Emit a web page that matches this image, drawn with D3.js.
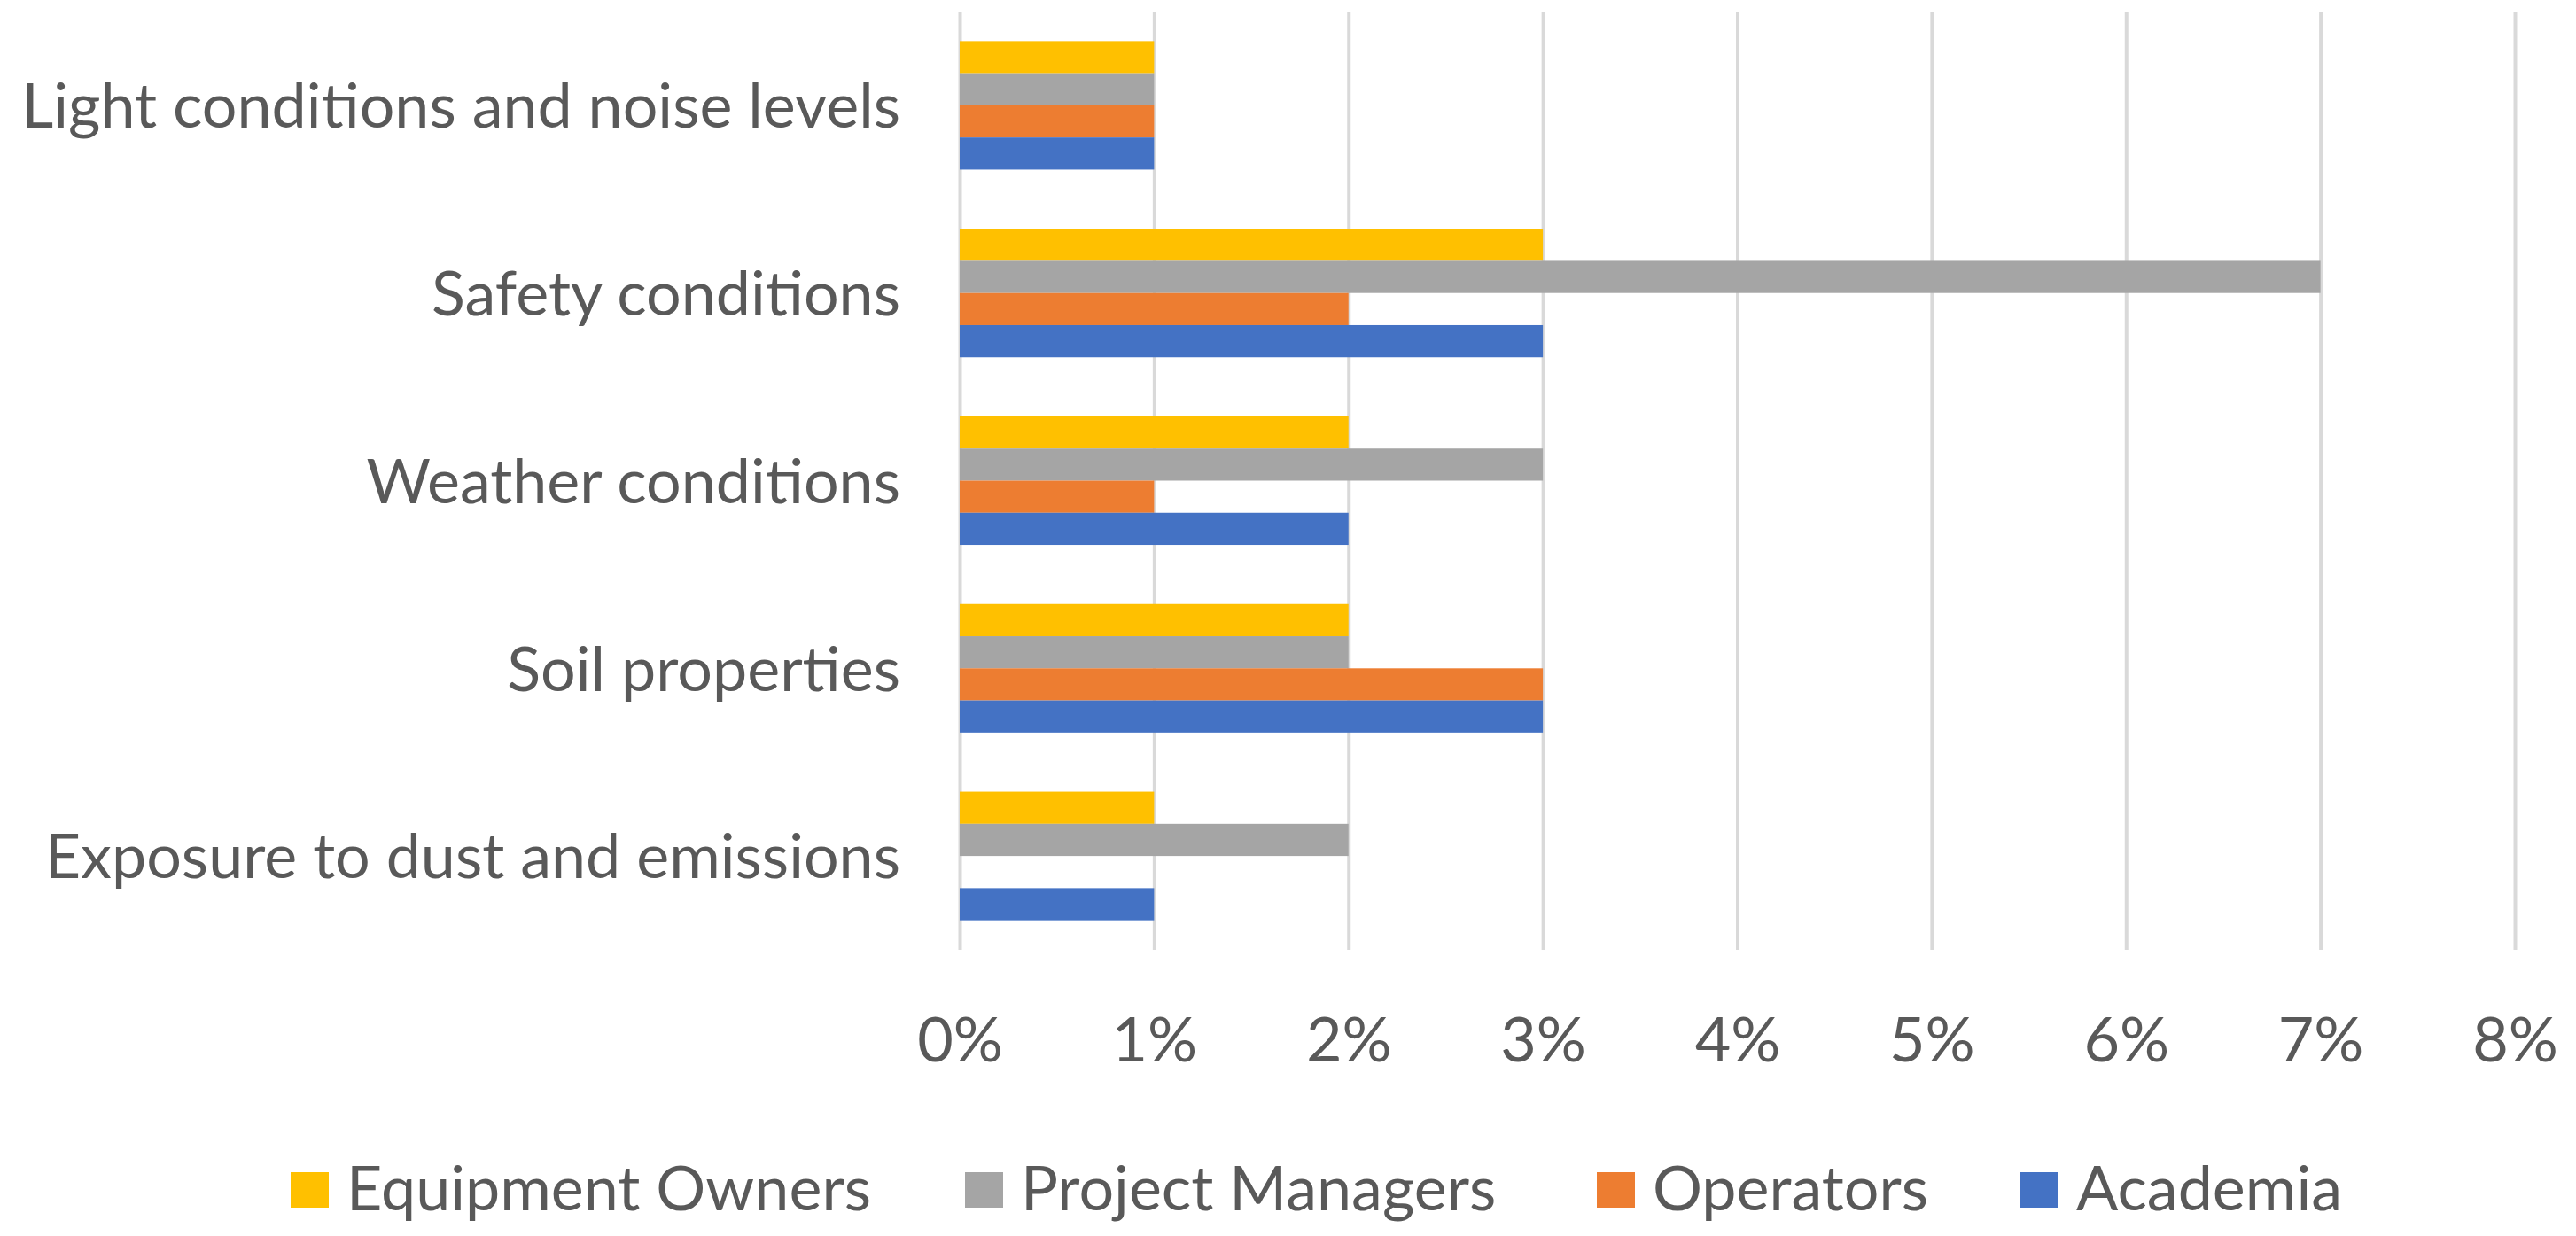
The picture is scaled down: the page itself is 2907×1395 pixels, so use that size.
<!DOCTYPE html>
<html>
<head>
<meta charset="utf-8">
<script src="https://cdn.jsdelivr.net/npm/d3@7"></script>
<style>
  body { margin: 0; background: #fff; }
  svg text { font-family: Lato, "Open Sans", sans-serif; fill: #595959; }
</style>
</head>
<body>
<svg></svg>
<script>
// categories, top to bottom
let categories = [
  "Light conditions and noise levels",
  "Safety conditions",
  "Weather conditions",
  "Soil properties",
  "Exposure to dust and emissions"
];

// series, in the order they are stacked inside each group (top to bottom)
let seriesNames = ["Equipment Owners", "Project Managers", "Operators", "Academia"];
let seriesColors = ["#FFC000", "#A5A5A5", "#ED7D31", "#4472C4"];

// values in percent, one array per series, same order as categories
let equipmentOwners = [1, 3, 2, 2, 1];
let projectManagers = [1, 7, 3, 2, 2];
let operators       = [1, 2, 1, 3, 0];
let academia        = [1, 3, 2, 3, 1];

let xTicks = [0, 1, 2, 3, 4, 5, 6, 7, 8];

let width = 2907;
let height = 1395;
let plotLeft = 1083, plotRight = 2838, plotTop = 13, plotBottom = 1072;
let fontSize = "70px";

let svg = d3.select("svg")
            .attr("width", width)
            .attr("height", height);

let seriesValues = [equipmentOwners, projectManagers, operators, academia];
let rows = [];
categories.forEach((cat, i) => {
  seriesNames.forEach((s, j) => {
    rows.push({ cat: cat, series: s, value: seriesValues[j][i] });
  });
});

let xScale = d3.scaleLinear()
               .domain([0, 8])
               .range([plotLeft, plotRight]);

let yScale = d3.scaleBand()
               .domain(categories)
               .range([plotTop, plotBottom])
               .paddingInner(0.315)
               .paddingOuter(0.1575);

let innerScale = d3.scaleBand()
                   .domain(seriesNames)
                   .range([0, yScale.bandwidth()]);

let colorScale = d3.scaleOrdinal()
                   .domain(seriesNames)
                   .range(seriesColors);

// gridlines
let grid = d3.axisBottom(xScale)
             .tickValues(xTicks)
             .tickSize(-(plotBottom - plotTop))
             .tickFormat("");

svg.append("g")
   .attr("transform", "translate(0," + plotBottom + ")")
   .call(grid)
   .call(g => g.select(".domain").remove())
   .call(g => g.selectAll("line").attr("stroke", "#d9d9d9").attr("stroke-width", 4));

// bars
svg.append("g")
   .selectAll("rect")
   .data(rows)
   .enter()
   .append("rect")
   .attr("x", xScale(0))
   .attr("y", d => yScale(d.cat) + innerScale(d.series))
   .attr("width", d => xScale(d.value) - xScale(0))
   .attr("height", innerScale.bandwidth())
   .attr("fill", d => colorScale(d.series));

// x axis labels
let xAxis = d3.axisBottom(xScale)
              .tickValues(xTicks)
              .tickSize(0)
              .tickPadding(0)
              .tickFormat(d => d + "%");

svg.append("g")
   .attr("transform", "translate(0,1198)")
   .call(xAxis)
   .call(g => g.select(".domain").remove())
   .call(g => g.selectAll("text")
               .attr("dy", null)
               .attr("y", 0)
               .style("font-size", fontSize)
               .style("fill", "#595959"));

// y axis labels
let yAxis = d3.axisLeft(yScale)
              .tickSize(0)
              .tickPadding(0);

svg.append("g")
   .attr("transform", "translate(1016,0)")
   .call(yAxis)
   .call(g => g.select(".domain").remove())
   .call(g => g.selectAll("text")
               .attr("dy", "0.36em")
               .style("font-size", fontSize)
               .style("fill", "#595959"));

// legend
let legendX = [328, 1089, 1802, 2280];
let legend = svg.append("g")
                .selectAll("g")
                .data(seriesNames)
                .enter()
                .append("g")
                .attr("transform", (d, i) => "translate(" + legendX[i] + ",1323)");

legend.append("rect")
      .attr("width", 43)
      .attr("height", 40)
      .attr("fill", d => colorScale(d));

legend.append("text")
      .attr("x", 63)
      .attr("y", 43)
      .style("font-size", fontSize)
      .text(d => d);
</script>
</body>
</html>
